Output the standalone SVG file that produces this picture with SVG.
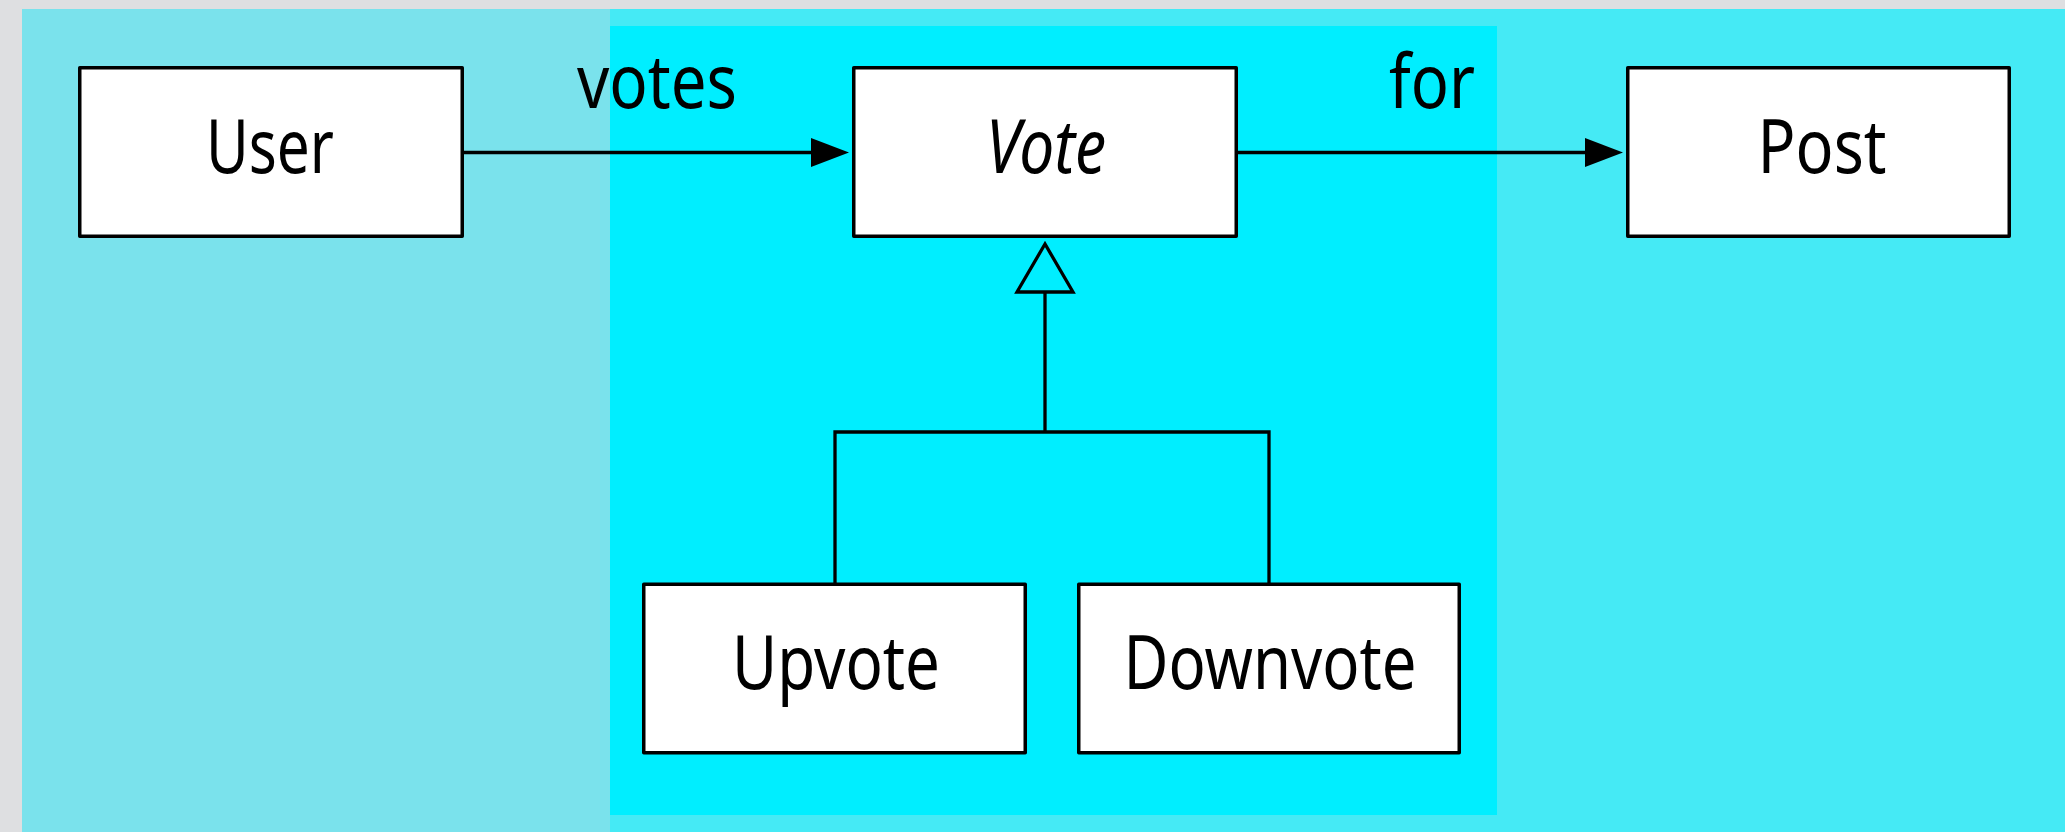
<svg xmlns="http://www.w3.org/2000/svg" width="2065" height="832" viewBox="0 0 2065 832">
<style>
.box{fill:#ffffff;stroke:#000000;stroke-width:3.5;stroke-linejoin:round}
.lbl{font-family:"Noto Sans","Liberation Sans",sans-serif;font-size:75px;fill:#000000;text-anchor:middle}
.conn{fill:none;stroke:#000000;stroke-width:3.3}
.head{fill:#000000;stroke:none}
.gen{fill:none;stroke:#000000;stroke-width:3.3;stroke-linejoin:miter}
</style>
<g id="background">
<rect x="0" y="0" width="2065" height="832" fill="#DEDFE1"/>
<rect x="22" y="9" width="2043" height="823" fill="#45EAF5"/>
<rect x="22" y="9" width="588" height="823" fill="#7AE2EC"/>
<rect x="610" y="26" width="887" height="789" fill="#00EEFF"/>
</g>
<g id="connectors">
<line class="conn" x1="464" y1="152.5" x2="813" y2="152.5"/>
<polygon class="head" points="811,138 849,152.5 811,167"/>
<line class="conn" x1="1238" y1="152.5" x2="1587" y2="152.5"/>
<polygon class="head" points="1585,138 1623,152.5 1585,167"/>
<polygon class="gen" points="1045,244 1017,292 1073,292"/>
<path class="conn" d="M1045 292 V432 M835 583 V432 H1269 V583"/>
<text class="lbl" x="657" y="108" textLength="160" lengthAdjust="spacingAndGlyphs">votes</text>
<text class="lbl" x="1432" y="108" textLength="86" lengthAdjust="spacingAndGlyphs">for</text>
</g>
<g id="node-user">
<rect class="box" x="79.75" y="67.75" width="382.5" height="168.5"/>
<text class="lbl" x="270" y="173" textLength="128" lengthAdjust="spacingAndGlyphs">User</text>
</g>
<g id="node-vote">
<rect class="box" x="853.75" y="67.75" width="382.5" height="168.5"/>
<text class="lbl" x="1046" y="173" font-style="italic" textLength="120" lengthAdjust="spacingAndGlyphs">Vote</text>
</g>
<g id="node-post">
<rect class="box" x="1627.75" y="67.75" width="381.5" height="168.5"/>
<text class="lbl" x="1822" y="173" textLength="129" lengthAdjust="spacingAndGlyphs">Post</text>
</g>
<g id="node-upvote">
<rect class="box" x="643.75" y="584.25" width="381.5" height="168.5"/>
<text class="lbl" x="836" y="689" textLength="208" lengthAdjust="spacingAndGlyphs">Upvote</text>
</g>
<g id="node-downvote">
<rect class="box" x="1078.75" y="584.25" width="380.5" height="168.5"/>
<text class="lbl" x="1270" y="689" textLength="293" lengthAdjust="spacingAndGlyphs">Downvote</text>
</g>
</svg>
